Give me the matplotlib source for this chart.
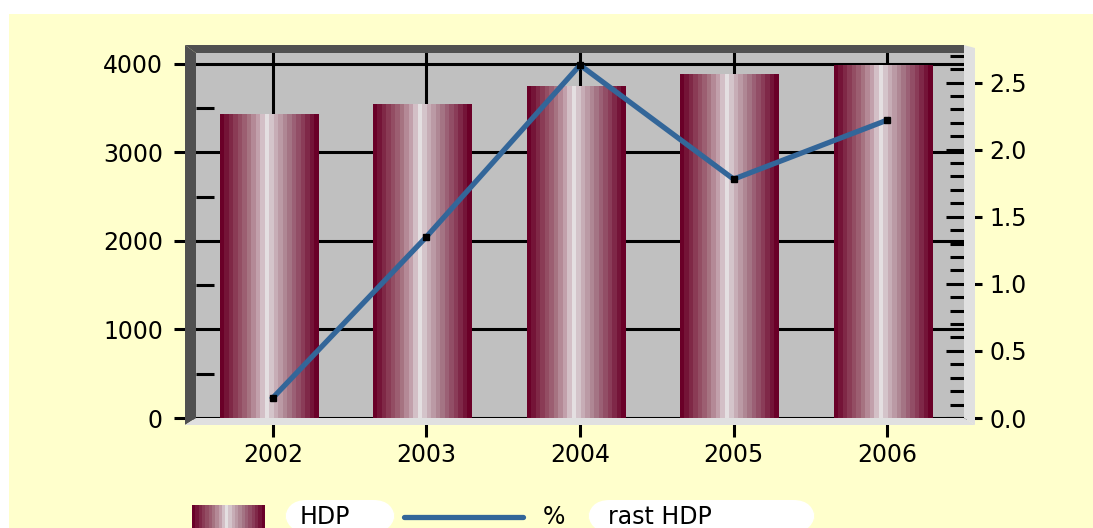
import numpy as np
import matplotlib
matplotlib.use("Agg")
import matplotlib.pyplot as plt
from matplotlib.patches import Polygon, Rectangle, FancyBboxPatch
from matplotlib.lines import Line2D
from matplotlib.colors import LinearSegmentedColormap
from matplotlib.ticker import MultipleLocator, FormatStrFormatter

years = ["2002", "2003", "2004", "2005", "2006"]
hdp = [3425, 3540, 3740, 3885, 3980]
rast = [0.15, 1.35, 2.63, 1.78, 2.22]

W, H = 1093, 528
fig = plt.figure(figsize=(W / 100, H / 100), dpi=100)
fig.patch.set_facecolor("white")

def fx(x):
    return x / W

def fy(y):
    return 1 - y / H

FS = 17
plt.rcParams['font.family'] = ['DejaVu Sans']

# yellow background
fig.add_artist(Rectangle((fx(9), 0), 1 - fx(9), fy(14), transform=fig.transFigure,
                         facecolor="#FFFFCC", edgecolor="none", zorder=-10))

L, R, T, B = 196, 964, 53, 418
ax1 = fig.add_axes([fx(L), fy(B), (R - L) / W, (B - T) / H])
ax1.set_facecolor("#C0C0C0")
for s in ax1.spines.values():
    s.set_visible(False)

cmap = LinearSegmentedColormap.from_list("bar", [
    (0.0, "#6A0028"), (0.12, "#86334F"), (0.28, "#A5707F"), (0.40, "#C8AAB4"),
    (0.47, "#E6E2E4"), (0.55, "#CDB7BF"), (0.70, "#A77A89"), (0.86, "#8A3C58"),
    (1.0, "#6A0028")])
grad = np.linspace(0, 1, 22).reshape(1, -1)

x = np.arange(len(years))
bw = 0.64
shift = -0.026
for xi, h in zip(x, hdp):
    ax1.imshow(grad, cmap=cmap, aspect="auto", interpolation="nearest",
               extent=[xi + shift - bw / 2, xi + shift + bw / 2, 0, h], zorder=2)

ax1.set_xlim(-0.5, len(years) - 0.5)
ax1.set_ylim(0, 4124)
ax1.set_xticks(x)
ax1.set_xticklabels(years)
ax1.yaxis.set_major_locator(MultipleLocator(1000))
ax1.yaxis.set_minor_locator(MultipleLocator(500))
ax1.set_axisbelow(True)
ax1.grid(True, which="major", color="black", lw=2.2, zorder=0)
ax1.tick_params(axis="y", which="major", direction="out", length=15.8, width=2.2,
                pad=8, labelsize=FS)
ax1.tick_params(axis="y", which="minor", direction="in", length=13, width=2.2)
ax1.tick_params(axis="x", which="major", direction="out", length=13.7, width=2.2,
                pad=4, labelsize=FS)

ax2 = ax1.twinx()
for s in ax2.spines.values():
    s.set_visible(False)
ax2.set_ylim(0, 2.72)
ax2.yaxis.set_major_locator(MultipleLocator(0.5))
ax2.yaxis.set_minor_locator(MultipleLocator(0.1))
ax2.yaxis.set_major_formatter(FormatStrFormatter("%.1f"))
ax2.tick_params(axis="y", which="major", direction="inout", length=26.6, width=2.2,
                pad=5, labelsize=FS)
ax2.tick_params(axis="y", which="minor", direction="in", length=10, width=2.2)
ax2.plot(x, rast, color="#336699", lw=3.8, marker="s", markersize=4.5,
         markerfacecolor="black", markeredgecolor="black", zorder=5)

# 3D walls
def poly(pts, color):
    fig.add_artist(Polygon([(fx(a), fy(b)) for a, b in pts], closed=True,
                           transform=fig.transFigure, facecolor=color,
                           edgecolor="none", zorder=3))

poly([(185, 45), (196, 53), (196, 418), (185, 425)], "#505050")
poly([(185, 45), (964, 45), (964, 53), (196, 53)], "#505050")
poly([(964, 45), (975, 48), (975, 425), (964, 418)], "#E0E0E0")
poly([(185, 425), (196, 418), (964, 418), (975, 425)], "#E0E0E0")

# legend
lax = fig.add_axes([fx(192), 0, 73 / W, fy(505)])
lax.imshow(grad, cmap=cmap, aspect="auto", interpolation="nearest")
lax.axis("off")

def cloud(x0, x1, y0, y1):
    fig.add_artist(FancyBboxPatch((fx(x0), fy(y1)), fx(x1) - fx(x0), fy(y0) - fy(y1),
                                  boxstyle="round,pad=0,rounding_size=0.02",
                                  transform=fig.transFigure, facecolor="white",
                                  edgecolor="none", zorder=4, mutation_aspect=W / H))

cloud(285, 395, 500, 532)
cloud(588, 815, 500, 532)

BL = 524
fig.text(fx(300), fy(BL), "HDP", fontsize=FS, ha="left", va="baseline", zorder=6)
fig.add_artist(Line2D([fx(404), fx(523)], [fy(517), fy(517)], transform=fig.transFigure,
                      color="#336699", lw=3.8, solid_capstyle="round", zorder=6))
fig.text(fx(543), fy(BL), "%", fontsize=FS, ha="left", va="baseline", zorder=6)
fig.text(fx(608), fy(BL), "rast HDP", fontsize=FS, ha="left", va="baseline", zorder=6)

fig.savefig("out.png", dpi=100)
